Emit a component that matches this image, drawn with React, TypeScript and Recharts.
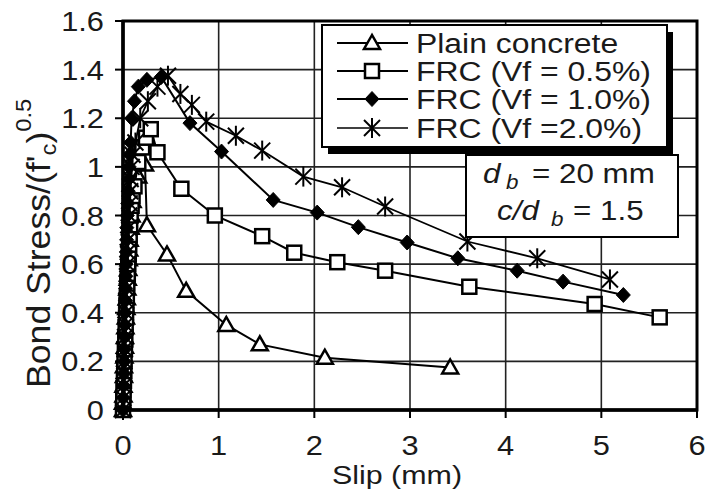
import React from 'react';
import { ScatterChart, Scatter, XAxis, YAxis, CartesianGrid } from 'recharts';

// Bond stress normalised by sqrt(f'c) against slip, four concrete mixes
const plainSlip = [
  0, 0, 0.005, 0.005, 0.01, 0.01, 0.015, 0.02, 0.02, 0.025, 0.03, 0.035, 0.04, 0.045, 0.05, 0.055, 0.06, 0.065, 0.07, 0.08, 0.09, 0.1,
  0.16, 0.23, 0.25, 0.46, 0.66, 1.08, 1.43, 2.11, 3.42,
];
const plainStress = [
  0, 0.03, 0.06, 0.1, 0.14, 0.18, 0.22, 0.26, 0.3, 0.34, 0.38, 0.42, 0.46, 0.5, 0.54, 0.58, 0.62, 0.66, 0.7, 0.75, 0.8, 0.86,
  0.96, 1.01, 0.76, 0.64, 0.49, 0.35, 0.27, 0.215, 0.175,
];

const frc05Slip = [
  0, 0.003, 0.006, 0.01, 0.013, 0.016, 0.02, 0.024, 0.028, 0.032, 0.036, 0.04, 0.045, 0.05, 0.055, 0.06, 0.065, 0.07, 0.075, 0.08, 0.09, 0.1, 0.12,
  0.16, 0.2, 0.24, 0.29, 0.36, 0.61, 0.96, 1.455, 1.79, 2.24, 2.74, 3.62, 4.93, 5.61,
];
const frc05Stress = [
  0, 0.04, 0.08, 0.12, 0.16, 0.2, 0.25, 0.29, 0.34, 0.38, 0.43, 0.47, 0.52, 0.56, 0.6, 0.64, 0.68, 0.72, 0.76, 0.8, 0.84, 0.88, 0.92,
  1.02, 1.08, 1.12, 1.155, 1.06, 0.91, 0.8, 0.715, 0.647, 0.608, 0.573, 0.507, 0.436, 0.381,
];

const frc10Slip = [
  0, 0.003, 0.006, 0.01, 0.012, 0.015, 0.018, 0.02, 0.022, 0.025, 0.028, 0.03, 0.033, 0.035, 0.038, 0.04, 0.045, 0.05, 0.055, 0.06, 0.065, 0.07, 0.08, 0.09,
  0.12, 0.16, 0.25, 0.4, 0.7, 1.03, 1.57, 2.03, 2.46, 2.97, 3.5, 4.12, 4.6, 5.23,
];
const frc10Stress = [
  0, 0.05, 0.1, 0.15, 0.2, 0.25, 0.3, 0.35, 0.4, 0.45, 0.5, 0.55, 0.6, 0.65, 0.7, 0.75, 0.8, 0.85, 0.9, 0.95, 1.0, 1.05, 1.1, 1.2,
  1.27, 1.33, 1.358, 1.37, 1.18, 1.063, 0.864, 0.812, 0.752, 0.689, 0.624, 0.573, 0.528, 0.473,
];

const frc20Slip = [
  0, 0.003, 0.006, 0.01, 0.014, 0.018, 0.022, 0.026, 0.03, 0.034, 0.038, 0.042, 0.046, 0.05, 0.055, 0.06, 0.065, 0.07, 0.075, 0.08, 0.09, 0.1, 0.13,
  0.18, 0.26, 0.36, 0.47, 0.6, 0.72, 0.87, 1.18, 1.455, 1.885, 2.29, 2.74, 3.6, 4.33, 5.09,
];
const frc20Stress = [
  0, 0.05, 0.1, 0.15, 0.2, 0.25, 0.3, 0.35, 0.4, 0.45, 0.5, 0.55, 0.6, 0.65, 0.7, 0.75, 0.8, 0.85, 0.9, 0.95, 1.0, 1.05, 1.1,
  1.2, 1.27, 1.33, 1.375, 1.3, 1.255, 1.186, 1.128, 1.067, 0.96, 0.916, 0.837, 0.693, 0.624, 0.537,
];

const seriesNames = ['Plain concrete', 'FRC (Vf = 0.5%)', 'FRC (Vf = 1.0%)', 'FRC (Vf =2.0%)'];
const xTicks = [0, 1, 2, 3, 4, 5, 6];
const yTicks = [0, 0.2, 0.4, 0.6, 0.8, 1, 1.2, 1.4, 1.6];

const zip = (xs: number[], ys: number[]) => xs.map((x, i) => ({ x, y: ys[i] }));
const plainData = zip(plainSlip, plainStress);
const frc05Data = zip(frc05Slip, frc05Stress);
const frc10Data = zip(frc10Slip, frc10Stress);
const frc20Data = zip(frc20Slip, frc20Stress);

const W = 706;
const H = 489;
const PLOT = { left: 123, top: 21, right: 697, bottom: 410 };
const FONT = '"Liberation Sans", Arial, sans-serif';
const INK = '#1a1a1a';

// marker glyphs
const TriangleMark = ({ cx, cy }: { cx: number; cy: number }) => (
  <polygon points={`${cx},${cy - 8} ${cx - 8},${cy + 6} ${cx + 8},${cy + 6}`} fill="#fff" stroke="#000" strokeWidth={2.5} />
);
const SquareMark = ({ cx, cy }: { cx: number; cy: number }) => (
  <rect x={cx - 7} y={cy - 7} width={14} height={14} fill="#fff" stroke="#000" strokeWidth={2.5} />
);
const DiamondMark = ({ cx, cy }: { cx: number; cy: number }) => (
  <polygon points={`${cx},${cy - 7.5} ${cx + 7},${cy} ${cx},${cy + 7.5} ${cx - 7},${cy}`} fill="#000" stroke="#000" strokeWidth={1} />
);
const StarMark = ({ cx, cy }: { cx: number; cy: number }) => (
  <g stroke="#000" strokeWidth={2}>
    <line x1={cx} y1={cy - 10} x2={cx} y2={cy + 10} />
    <line x1={cx - 8} y1={cy - 8} x2={cx + 8} y2={cy + 8} />
    <line x1={cx + 8} y1={cy - 8} x2={cx - 8} y2={cy + 8} />
  </g>
);

const markers = [TriangleMark, SquareMark, DiamondMark, StarMark];

const shapeOf = (M: any) => (p: any) => <M cx={p.cx} cy={p.cy} />;

// wide text helper: stretched horizontally around its anchor
const SText = ({ x, y, size, sx = 1.12, anchor = 'start', children, style }: any) => (
  <text
    transform={`translate(${x},${y}) scale(${sx},1)`}
    x={0}
    y={0}
    fontSize={size}
    fontFamily={FONT}
    fill={INK}
    textAnchor={anchor}
    style={style}
  >
    {children}
  </text>
);

const XTick = (props: any) => {
  const { x, y, payload } = props;
  return <SText x={x} y={y + 37} size={28} sx={1.1} anchor="middle">{payload.value}</SText>;
};

const YTick = (props: any) => {
  const { x, y, payload } = props;
  return <SText x={x - 11} y={y + 10} size={28} sx={1.1} anchor="end">{payload.value}</SText>;
};

const LegendBlock = () => {
  const bx = 322;
  const by = 25;
  const bw = 345;
  const bh = 122;
  const rows = [43, 71, 99, 128];
  return (
    <g>
      <rect x={bx + 6} y={by + 7} width={bw} height={bh} fill="#000" />
      <rect x={bx} y={by} width={bw} height={bh} fill="#fff" stroke="#000" strokeWidth={2} />
      {seriesNames.map((name, i) => {
        const M = markers[i];
        const ly = rows[i];
        return (
          <g key={name}>
            <line x1={337} y1={ly} x2={408} y2={ly} stroke="#000" strokeWidth={i === 3 ? 1.6 : 2.2} />
            <M cx={372} cy={ly} />
            <SText x={416} y={ly + 10} size={28} sx={1.14}>{name}</SText>
          </g>
        );
      })}
    </g>
  );
};

const NoteBlock = () => (
  <g>
    <rect x={466} y={155} width={212} height={82} fill="#fff" stroke="#000" strokeWidth={2} />
    <SText x={483} y={183} size={28} sx={1.12} style={{ fontStyle: 'italic' }}>d</SText>
    <SText x={506} y={189} size={20} sx={1.12} style={{ fontStyle: 'italic' }}>b</SText>
    <SText x={532} y={183} size={28} sx={1.12}>= 20 mm</SText>
    <SText x={497} y={220} size={28} sx={1.12} style={{ fontStyle: 'italic' }}>c/d</SText>
    <SText x={551} y={226} size={20} sx={1.12} style={{ fontStyle: 'italic' }}>b</SText>
    <SText x={573} y={220} size={28} sx={1.12}>= 1.5</SText>
  </g>
);

const AxisTitles = () => (
  <g>
    <SText x={397} y={484} size={26} sx={1.17} anchor="middle">Slip (mm)</SText>
    <text
      transform="translate(50,388) rotate(-90) scale(1.08,1)"
      x={0}
      y={0}
      fontSize={33}
      fontFamily={FONT}
      fill={INK}
    >
      {"Bond Stress/(f'"}
      <tspan fontSize={22} dy={6}>c</tspan>
      <tspan dy={-6}>)</tspan>
      <tspan fontSize={22} dy={-19}>0.5</tspan>
    </text>
  </g>
);

export default function App() {
  return (
    <div style={{ position: 'fixed', left: 0, top: 0, width: W, height: H, background: '#fff' }}>
      <ScatterChart width={W} height={H} margin={{ top: PLOT.top, right: W - PLOT.right, bottom: 0, left: 0 }}>
        <CartesianGrid stroke="#222" strokeWidth={1.6} />
        <XAxis
          type="number"
          dataKey="x"
          domain={[0, 6]}
          ticks={xTicks}
          height={H - PLOT.bottom}
          axisLine={false}
          tickSize={8}
          tickMargin={0}
          tickLine={{ stroke: '#000', strokeWidth: 2 }}
          tick={<XTick />}
          interval={0}
        />
        <YAxis
          type="number"
          dataKey="y"
          domain={[0, 1.6]}
          ticks={yTicks}
          width={PLOT.left}
          axisLine={false}
          tickSize={8}
          tickMargin={0}
          tickLine={{ stroke: '#000', strokeWidth: 2 }}
          tick={<YTick />}
          interval={0}
        />
        <Scatter data={plainData} line={{ stroke: '#000', strokeWidth: 2 }} lineType="joint" shape={shapeOf(TriangleMark)} isAnimationActive={false} />
        <Scatter data={frc05Data} line={{ stroke: '#000', strokeWidth: 2 }} lineType="joint" shape={shapeOf(SquareMark)} isAnimationActive={false} />
        <Scatter data={frc10Data} line={{ stroke: '#000', strokeWidth: 2 }} lineType="joint" shape={shapeOf(DiamondMark)} isAnimationActive={false} />
        <Scatter data={frc20Data} line={{ stroke: '#000', strokeWidth: 1.8 }} lineType="joint" shape={shapeOf(StarMark)} isAnimationActive={false} />
      </ScatterChart>
      <svg width={W} height={H} style={{ position: 'absolute', left: 0, top: 0, pointerEvents: 'none' }}>
        <rect
          x={PLOT.left}
          y={PLOT.top}
          width={PLOT.right - PLOT.left}
          height={PLOT.bottom - PLOT.top}
          fill="none"
          stroke="#000"
          strokeWidth={3}
        />
        <line x1={PLOT.left} y1={PLOT.bottom} x2={PLOT.right} y2={PLOT.bottom} stroke="#000" strokeWidth={3.5} />
        <line x1={PLOT.left} y1={PLOT.top} x2={PLOT.left} y2={PLOT.bottom} stroke="#000" strokeWidth={3.5} />
        <LegendBlock />
        <NoteBlock />
        <AxisTitles />
      </svg>
    </div>
  );
}
